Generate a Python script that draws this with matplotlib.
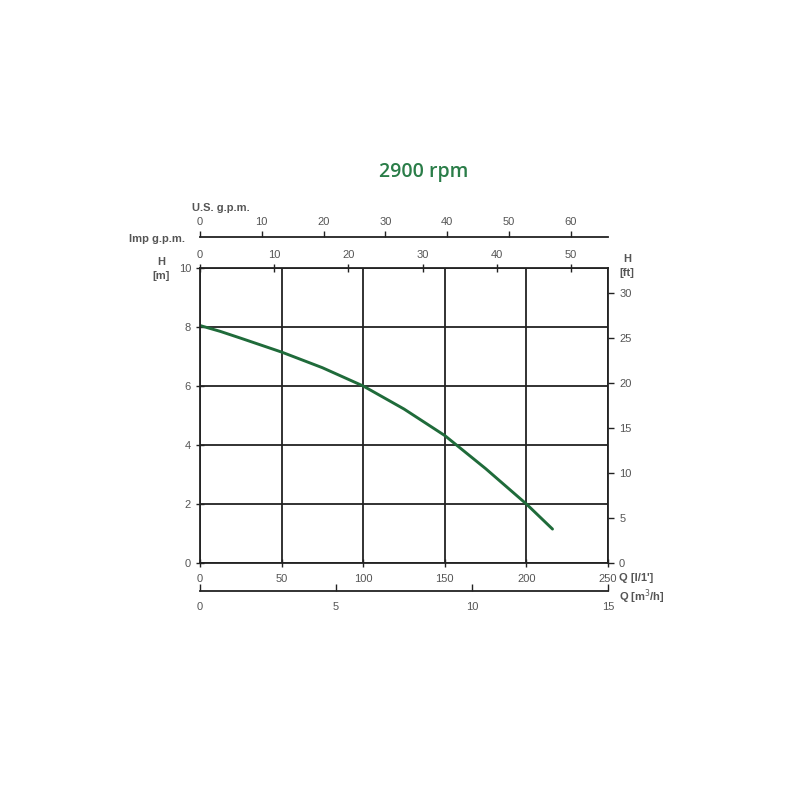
import matplotlib
matplotlib.use('Agg')
import matplotlib.pyplot as plt

# pump curve: flow in l/min, head in m
flow_lmin = [0, 12.5, 25, 50, 75, 100, 125, 150, 175, 200, 216]
head_m = [8.05, 7.85, 7.62, 7.15, 6.62, 6.0, 5.22, 4.32, 3.2, 2.0, 1.15]

q_ticks = [0, 50, 100, 150, 200, 250]
h_ticks = [0, 2, 4, 6, 8, 10]
ft_ticks = [0, 5, 10, 15, 20, 25, 30]
imp_ticks = [0, 10, 20, 30, 40, 50]
us_ticks = [0, 10, 20, 30, 40, 50, 60]
m3h_ticks = [0, 5, 10, 15]

L_PER_US = 3.785
L_PER_IMP = 4.546
M_TO_FT = 3.2808

gray = '#555555'
dark = '#222222'
green = '#1f6b3a'
tsize = 8

plt.rcParams['font.family'] = ['Liberation Sans', 'DejaVu Sans']

fig = plt.figure(figsize=(8, 8), dpi=100)
left, width = 0.25, 0.51
ax = fig.add_axes([left, 0.29625, width, 0.36875])

ax.plot(flow_lmin, head_m, color=green, lw=2.1, solid_capstyle='round')
ax.set_xlim(0, 250)
ax.set_ylim(0, 10)
ax.set_xticks(q_ticks)
ax.set_yticks(h_ticks)
ax.grid(True, color=dark, lw=1.3)
ax.set_axisbelow(True)
for s in ax.spines.values():
    s.set_color(dark)
    s.set_linewidth(1.3)
ax.tick_params(axis='both', direction='inout', length=6, width=1, color=dark,
               labelsize=tsize, labelcolor=gray)
ax.tick_params(axis='x', pad=5)

# right axis in feet
ax_ft = ax.twinx()
ax_ft.set_ylim(0, 10 * M_TO_FT)
ax_ft.set_yticks(ft_ticks)
ax_ft.tick_params(axis='y', direction='out', length=4, width=1, color=dark,
                  labelsize=tsize, labelcolor=gray, pad=4)
for s in ax_ft.spines.values():
    s.set_visible(False)

# Imp g.p.m. on top of the main frame
ax_imp = ax.secondary_xaxis('top', functions=(lambda x: x / L_PER_IMP, lambda x: x * L_PER_IMP))
ax_imp.set_xticks(imp_ticks)
ax_imp.tick_params(direction='inout', length=6, width=1, color=dark,
                   labelsize=tsize, labelcolor=gray, pad=3)
ax_imp.spines['top'].set_visible(False)

# U.S. g.p.m. line above
ax_us = fig.add_axes([left, 1 - 237 / 800, width, 0.0001])
ax_us.set_xlim(0, 250 / L_PER_US)
ax_us.set_xticks(us_ticks)
ax_us.set_yticks([])
for k in ['left', 'right', 'bottom']:
    ax_us.spines[k].set_visible(False)
ax_us.spines['top'].set_color(dark)
ax_us.spines['top'].set_linewidth(1.3)
ax_us.xaxis.set_ticks_position('top')
ax_us.tick_params(axis='x', direction='out', length=4, width=1, color=dark,
                  labelsize=tsize, labelcolor=gray, pad=3)

# m3/h line below
ax_m3 = fig.add_axes([left, 1 - 591 / 800, width, 0.0001])
ax_m3.set_xlim(0, 15)
ax_m3.set_xticks(m3h_ticks)
ax_m3.set_yticks([])
for k in ['left', 'right', 'top']:
    ax_m3.spines[k].set_visible(False)
ax_m3.spines['bottom'].set_color(dark)
ax_m3.spines['bottom'].set_linewidth(1.3)
ax_m3.tick_params(axis='x', direction='in', length=5, width=1, color=dark,
                  labelsize=tsize, labelcolor=gray, pad=8)
ax_m3.patch.set_visible(False)

# labels
lab = dict(fontsize=8, fontweight='bold', color=gray)
fig.text(192 / 800, 1 - 208 / 800, 'U.S. g.p.m.', ha='left', va='center', **lab)
fig.text(129 / 800, 1 - 239 / 800, 'Imp g.p.m.', ha='left', va='center', **lab)
fig.text(161 / 800, 1 - 269 / 800, 'H\n[m]', ha='center', va='center', linespacing=1.4, **lab)
fig.text(627 / 800, 1 - 266 / 800, 'H\n[ft]', ha='center', va='center', linespacing=1.4, **lab)
fig.text(619 / 800, 1 - 578 / 800, "Q [l/1']", ha='left', va='center', **lab)
fig.text(619 / 800, 1 - 597 / 800, 'Q [m$^3$/h]', ha='left', va='center', **lab)

fig.text(424 / 800, 1 - 172 / 800, '2900 rpm', ha='center', va='center',
         fontsize=14, fontweight='semibold', color='#2a7d48',
         family=['Open Sans', 'DejaVu Sans'])

fig.savefig('out.png', dpi=100)
